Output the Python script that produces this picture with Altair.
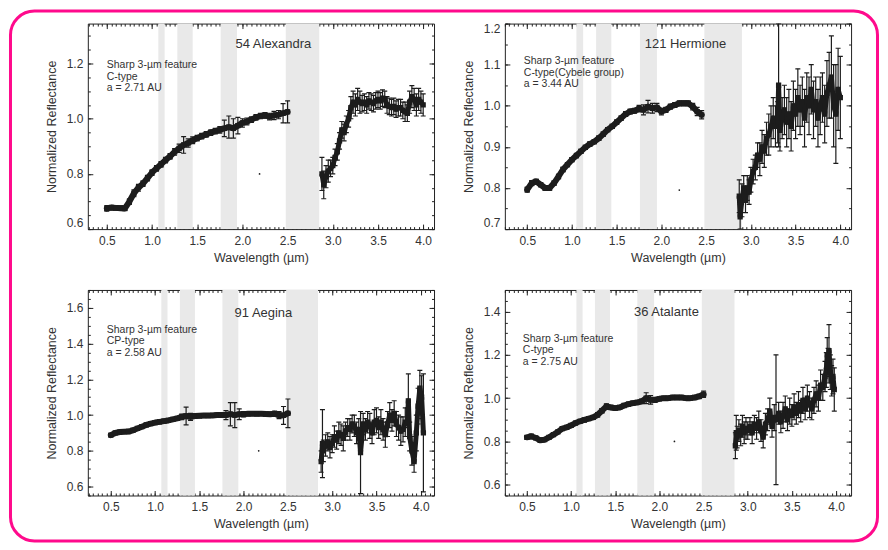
import math
import altair as alt
import pandas as pd

# ---------------- data ----------------
names = ["54 Alexandra", "121 Hermione", "91 Aegina", "36 Atalante"]
notes = [
    ["Sharp 3-\u00b5m feature", "C-type", "a = 2.71 AU"],
    ["Sharp 3-\u00b5m feature", "C-type(Cybele group)", "a = 3.44 AU"],
    ["Sharp 3-\u00b5m feature", "CP-type", "a = 2.58 AU"],
    ["Sharp 3-\u00b5m feature", "C-type", "a = 2.75 AU"],
]
x_major = [0.5, 1.0, 1.5, 2.0, 2.5, 3.0, 3.5, 4.0]
y_major = [
    [0.6, 0.8, 1.0, 1.2],
    [0.7, 0.8, 0.9, 1.0, 1.1, 1.2],
    [0.6, 0.8, 1.0, 1.2, 1.4, 1.6],
    [0.6, 0.8, 1.0, 1.2, 1.4],
]
x_domains = [[0.29, 4.12], [0.25, 4.12], [0.24, 4.15], [0.25, 4.17]]
y_domains = [[0.6, 1.345], [0.7, 1.2], [0.55, 1.70], [0.55, 1.50]]

band_lo = [[1.07, 1.28, 1.76, 2.48], [1.05, 1.27, 1.76, 2.48], [1.07, 1.28, 1.76, 2.48], [1.06, 1.27, 1.75, 2.48]]
band_hi = [[1.14, 1.45, 1.94, 2.85], [1.125, 1.44, 1.95, 2.90], [1.14, 1.45, 1.94, 2.84], [1.13, 1.44, 1.94, 2.85]]

stray_x = [2.19, 2.20, 2.17, 2.17]
stray_y = [0.80, 0.795, 0.80, 0.80]

wl_vis = [0.50, 0.55, 0.60, 0.65, 0.70, 0.75, 0.80, 0.85, 0.90, 0.95, 1.00, 1.05, 1.10, 1.15,
          1.20, 1.25, 1.30, 1.35, 1.40, 1.45, 1.50, 1.55, 1.60, 1.65, 1.70, 1.75, 1.80, 1.85,
          1.90, 1.95, 2.00, 2.05, 2.10, 2.15, 2.20, 2.25, 2.30, 2.35, 2.40, 2.45, 2.50]

# 54 Alexandra
alex_vis_r = [0.675, 0.678, 0.677, 0.676, 0.675, 0.700, 0.730, 0.750, 0.765, 0.785, 0.805, 0.820,
              0.835, 0.850, 0.864, 0.880, 0.893, 0.905, 0.912, 0.922, 0.930, 0.937, 0.943, 0.950,
              0.955, 0.960, 0.965, 0.970, 0.965, 0.975, 0.985, 0.990, 0.997, 1.005, 1.010, 1.012,
              1.008, 1.012, 1.015, 1.020, 1.025]
alex_vis_e = [0.010, 0.008, 0.008, 0.008, 0.008, 0.010, 0.012, 0.012, 0.010, 0.010, 0.010, 0.010,
              0.010, 0.010, 0.010, 0.012, 0.015, 0.030, 0.015, 0.012, 0.010, 0.010, 0.010, 0.010,
              0.010, 0.012, 0.030, 0.040, 0.035, 0.030, 0.015, 0.012, 0.010, 0.010, 0.010, 0.010,
              0.012, 0.015, 0.015, 0.035, 0.040]
alex_ir_w = [2.88, 2.90, 2.925, 2.95, 2.975, 3.00, 3.025, 3.05, 3.075, 3.10, 3.125, 3.15, 3.175,
             3.20, 3.225, 3.25, 3.275, 3.30, 3.325, 3.35, 3.375, 3.40, 3.425, 3.45, 3.475, 3.50,
             3.525, 3.55, 3.575, 3.60, 3.625, 3.65, 3.675, 3.70, 3.725, 3.75, 3.775, 3.80, 3.825,
             3.85, 3.875, 3.90, 3.925, 3.95, 3.975, 4.00]
alex_ir_r = [0.80, 0.76, 0.79, 0.81, 0.82, 0.83, 0.86, 0.88, 0.92, 0.96, 0.95, 0.98, 1.00, 1.04,
             1.06, 1.05, 1.07, 1.06, 1.055, 1.06, 1.05, 1.065, 1.06, 1.055, 1.065, 1.07, 1.065,
             1.075, 1.07, 1.05, 1.045, 1.04, 1.045, 1.035, 1.04, 1.04, 1.03, 1.025, 1.02, 1.06,
             1.08, 1.07, 1.05, 1.07, 1.06, 1.05]
alex_ir_e = [0.06, 0.05, 0.04, 0.04, 0.03, 0.03, 0.03, 0.03, 0.03, 0.03, 0.03, 0.03, 0.03, 0.04,
             0.04, 0.04, 0.04, 0.04, 0.03, 0.03, 0.03, 0.03, 0.03, 0.03, 0.03, 0.03, 0.03, 0.03,
             0.03, 0.03, 0.03, 0.03, 0.03, 0.03, 0.03, 0.03, 0.03, 0.035, 0.03, 0.04, 0.04, 0.04,
             0.04, 0.04, 0.04, 0.04]

# 121 Hermione
herm_vis_r = [0.796, 0.812, 0.816, 0.808, 0.800, 0.800, 0.812, 0.828, 0.845, 0.857, 0.869, 0.879,
              0.889, 0.899, 0.907, 0.913, 0.921, 0.931, 0.942, 0.950, 0.960, 0.970, 0.980, 0.986,
              0.988, 0.993, 0.990, 0.998, 0.994, 0.996, 0.986, 0.990, 0.998, 1.002, 1.006, 1.006,
              1.006, 0.998, 0.986, 0.978]
herm_vis_e = [0.006, 0.006, 0.005, 0.005, 0.005, 0.005, 0.005, 0.005, 0.005, 0.005, 0.005, 0.005,
              0.005, 0.005, 0.005, 0.005, 0.005, 0.005, 0.005, 0.005, 0.005, 0.005, 0.006, 0.006,
              0.006, 0.008, 0.012, 0.015, 0.012, 0.010, 0.008, 0.006, 0.006, 0.006, 0.006, 0.006,
              0.006, 0.008, 0.010, 0.010]
herm_ir_w = [2.87, 2.88, 2.90, 2.92, 2.94, 2.96, 2.98, 3.00, 3.025, 3.05, 3.075, 3.10, 3.125, 3.15,
             3.175, 3.20, 3.225, 3.25, 3.275, 3.30, 3.31, 3.325, 3.35, 3.375, 3.40, 3.425, 3.45,
             3.475, 3.50, 3.525, 3.55, 3.575, 3.60, 3.625, 3.65, 3.675, 3.70, 3.725, 3.75, 3.775,
             3.80, 3.825, 3.85, 3.875, 3.90, 3.925, 3.95, 3.975, 4.00]
herm_ir_r = [0.78, 0.73, 0.77, 0.80, 0.77, 0.80, 0.79, 0.82, 0.84, 0.85, 0.88, 0.87, 0.90, 0.89,
             0.92, 0.93, 0.95, 0.97, 0.95, 0.96, 1.05, 0.94, 0.97, 0.99, 0.96, 0.98, 0.95, 1.00,
             0.98, 1.02, 0.99, 1.01, 0.97, 1.02, 1.00, 1.04, 0.99, 1.01, 0.97, 1.00, 1.02, 0.98,
             1.03, 1.05, 1.07, 1.00, 0.98, 1.04, 1.02]
herm_ir_e = [0.04, 0.03, 0.04, 0.03, 0.03, 0.03, 0.03, 0.03, 0.03, 0.03, 0.03, 0.04, 0.04, 0.04,
             0.04, 0.05, 0.05, 0.05, 0.05, 0.05, 0.15, 0.05, 0.05, 0.06, 0.06, 0.06, 0.06, 0.06,
             0.06, 0.07, 0.06, 0.06, 0.07, 0.06, 0.07, 0.06, 0.07, 0.06, 0.07, 0.07, 0.06, 0.07,
             0.08, 0.08, 0.10, 0.10, 0.12, 0.10, 0.10]

# 91 Aegina
aeg_vis_r = [0.888, 0.900, 0.905, 0.907, 0.908, 0.915, 0.925, 0.935, 0.945, 0.952, 0.958, 0.962,
             0.966, 0.970, 0.976, 0.982, 0.990, 0.995, 0.990, 0.995, 0.996, 0.997, 0.997, 0.998,
             1.000, 1.000, 1.000, 1.005, 1.000, 1.005, 1.005, 1.008, 1.008, 1.007, 1.008, 1.006,
             1.005, 1.007, 1.000, 0.998, 1.010]
aeg_vis_e = [0.008, 0.006, 0.006, 0.006, 0.006, 0.006, 0.006, 0.008, 0.010, 0.010, 0.010, 0.010,
             0.010, 0.010, 0.010, 0.010, 0.015, 0.050, 0.020, 0.012, 0.010, 0.010, 0.010, 0.010,
             0.010, 0.012, 0.025, 0.065, 0.070, 0.030, 0.015, 0.012, 0.010, 0.010, 0.010, 0.010,
             0.012, 0.015, 0.020, 0.050, 0.080]
aeg_ir_w = [2.875, 2.89, 2.90, 2.925, 2.95, 2.975, 3.00, 3.025, 3.05, 3.075, 3.10, 3.125, 3.15,
            3.175, 3.20, 3.225, 3.25, 3.275, 3.30, 3.32, 3.35, 3.375, 3.40, 3.425, 3.45, 3.475,
            3.50, 3.525, 3.55, 3.575, 3.60, 3.625, 3.65, 3.675, 3.70, 3.725, 3.75, 3.775, 3.80,
            3.825, 3.85, 3.86, 3.875, 3.90, 3.925, 3.95, 3.97, 3.99, 4.01, 4.03]
aeg_ir_r = [0.74, 0.84, 0.80, 0.83, 0.85, 0.82, 0.84, 0.88, 0.86, 0.90, 0.89, 0.87, 0.91, 0.93,
            0.92, 0.95, 0.94, 0.90, 0.92, 0.79, 0.95, 0.92, 0.96, 0.94, 0.90, 0.96, 0.97, 0.93,
            0.96, 0.92, 0.89, 0.95, 1.00, 0.97, 1.01, 0.95, 0.93, 0.91, 0.92, 0.96, 0.96, 1.08,
            0.88, 0.80, 0.74, 0.90, 1.05, 1.15, 1.10, 0.90]
aeg_ir_e = [0.06, 0.19, 0.06, 0.06, 0.05, 0.06, 0.05, 0.06, 0.05, 0.06, 0.06, 0.07, 0.05, 0.05,
            0.06, 0.05, 0.06, 0.06, 0.06, 0.23, 0.06, 0.06, 0.06, 0.07, 0.06, 0.07, 0.07, 0.06,
            0.07, 0.06, 0.07, 0.07, 0.07, 0.06, 0.07, 0.07, 0.07, 0.08, 0.07, 0.08, 0.08, 0.15,
            0.08, 0.08, 0.06, 0.10, 0.10, 0.10, 0.12, 0.33]

# 36 Atalante
atal_vis_r = [0.819, 0.824, 0.816, 0.805, 0.808, 0.819, 0.831, 0.844, 0.859, 0.865, 0.874, 0.885,
              0.893, 0.899, 0.905, 0.911, 0.923, 0.942, 0.962, 0.957, 0.954, 0.957, 0.966, 0.972,
              0.977, 0.980, 0.985, 1.000, 0.992, 0.992, 0.997, 1.000, 1.000, 1.003, 1.003, 1.003,
              1.000, 1.000, 1.003, 1.008, 1.018]
atal_vis_e = [0.008, 0.006, 0.006, 0.006, 0.006, 0.006, 0.006, 0.006, 0.008, 0.008, 0.008, 0.008,
              0.008, 0.008, 0.008, 0.008, 0.010, 0.010, 0.012, 0.010, 0.008, 0.008, 0.008, 0.008,
              0.008, 0.008, 0.010, 0.025, 0.020, 0.012, 0.008, 0.006, 0.006, 0.006, 0.006, 0.006,
              0.006, 0.006, 0.006, 0.010, 0.015]
atal_ir_w = [2.86, 2.87, 2.88, 2.90, 2.92, 2.94, 2.96, 2.98, 3.00, 3.025, 3.05, 3.075, 3.10, 3.125,
             3.15, 3.175, 3.20, 3.225, 3.25, 3.275, 3.30, 3.32, 3.35, 3.375, 3.40, 3.425, 3.45,
             3.475, 3.50, 3.525, 3.55, 3.575, 3.60, 3.625, 3.65, 3.675, 3.70, 3.725, 3.75, 3.775,
             3.80, 3.825, 3.85, 3.875, 3.89, 3.90, 3.91, 3.92, 3.935, 3.95, 3.965, 3.98]
atal_ir_r = [0.78, 0.84, 0.82, 0.85, 0.83, 0.87, 0.84, 0.86, 0.85, 0.87, 0.84, 0.88, 0.86, 0.89,
             0.85, 0.82, 0.88, 0.90, 0.94, 0.87, 0.91, 0.90, 0.93, 0.89, 0.92, 0.95, 0.90, 0.94,
             0.92, 0.96, 0.93, 0.97, 0.94, 0.99, 0.95, 1.00, 0.97, 0.95, 0.99, 1.02, 1.00, 1.06,
             1.05, 1.10, 1.13, 1.20, 1.15, 1.22, 1.12, 1.08, 1.10, 1.04]
atal_ir_e = [0.06, 0.08, 0.05, 0.05, 0.05, 0.05, 0.05, 0.05, 0.04, 0.04, 0.05, 0.04, 0.05, 0.05,
             0.05, 0.05, 0.05, 0.05, 0.06, 0.05, 0.06, 0.30, 0.05, 0.05, 0.06, 0.06, 0.05, 0.06,
             0.05, 0.06, 0.05, 0.06, 0.05, 0.06, 0.05, 0.06, 0.06, 0.05, 0.06, 0.06, 0.06, 0.07,
             0.06, 0.07, 0.08, 0.08, 0.08, 0.12, 0.08, 0.07, 0.08, 0.10]

spectra = [
    (wl_vis, alex_vis_r, alex_vis_e, alex_ir_w, alex_ir_r, alex_ir_e),
    (wl_vis[:40], herm_vis_r, herm_vis_e, herm_ir_w, herm_ir_r, herm_ir_e),
    (wl_vis, aeg_vis_r, aeg_vis_e, aeg_ir_w, aeg_ir_r, aeg_ir_e),
    (wl_vis, atal_vis_r, atal_vis_e, atal_ir_w, atal_ir_r, atal_ir_e),
]

# ---------------- layout / style ----------------
W, H = 347, 206
INK = "#1c1c1c"
TXT = "#333333"
FONT = "Liberation Sans"
PINK = "#ff0a8c"

name_pos = [(186, 20), (181, 20), (176, 23), (162, 22)]
note_pos = [(19, 37), (19, 33), (19, 35), (18, 44)]


def grid_vals(lo, hi, step=0.05):
    a = math.ceil(lo / step - 1e-9)
    b = math.floor(hi / step + 1e-9)
    return [round(i * step, 3) for i in range(a, b + 1)]


def make_axis(orient, vals, major, labels=False, title=None, flush=False):
    size = 5 if major else 2.5
    kw = dict(orient=orient, values=vals, tickSize=size, offset=-size, ticks=True,
              labels=labels, domain=False, grid=False, tickColor="#222222", tickWidth=1,
              title=title)
    if labels:
        kw.update(format=".1f", labelFont=FONT, labelFontSize=12, labelColor=TXT,
                  labelPadding=5 if orient in ("left", "right") else 6)
        if flush:
            kw.update(labelFlush=True)
        kw.update(titleFont=FONT, titleFontSize=12.5, titleFontWeight="normal",
                  titleColor=TXT, titlePadding=8 if orient == "left" else 5)
    return alt.Axis(**kw)


def panel(i):
    xd, yd = x_domains[i], y_domains[i]
    xs = alt.Scale(domain=xd, nice=False, zero=False)
    ys = alt.Scale(domain=yd, nice=False, zero=False)
    xmin_v = grid_vals(xd[0], xd[1])
    ymin_v = grid_vals(yd[0], yd[1])
    vw, vr, ve, iw, ir, ie = spectra[i]
    vis = pd.DataFrame({"wl": vw, "r": vr, "e": ve})
    irr = pd.DataFrame({"wl": iw, "r": ir, "e": ie})
    df = pd.concat([vis, irr], ignore_index=True)
    df["lo"] = df["r"] - df["e"]
    df["hi"] = df["r"] + df["e"]
    bands = pd.DataFrame({"b0": band_lo[i], "b1": band_hi[i]})
    one = pd.DataFrame({"k": [0]})

    band_layer = alt.Chart(bands).mark_rect(color="#e9e9e9").encode(
        x=alt.X("b0:Q", scale=xs, axis=make_axis("bottom", x_major, True, True, "Wavelength (\u00b5m)")),
        x2="b1:Q",
    )
    rules = alt.Chart(df).mark_rule(color=INK, strokeWidth=1.2, clip=True).encode(
        x=alt.X("wl:Q", scale=xs, axis=make_axis("bottom", xmin_v, False)),
        y=alt.Y("lo:Q", scale=ys, axis=make_axis("left", y_major[i], True, True, "Normalized Reflectance", True)),
        y2="hi:Q",
    )
    caps_lo = alt.Chart(df).mark_tick(orient="horizontal", size=5, thickness=1.2, color=INK,
                                      opacity=1, clip=True).encode(
        x=alt.X("wl:Q", scale=xs, axis=make_axis("top", x_major, True)),
        y=alt.Y("lo:Q", scale=ys, axis=make_axis("left", ymin_v, False)),
    )
    caps_hi = alt.Chart(df).mark_tick(orient="horizontal", size=5, thickness=1.2, color=INK,
                                      opacity=1, clip=True).encode(
        x=alt.X("wl:Q", scale=xs, axis=make_axis("top", xmin_v, False)),
        y=alt.Y("hi:Q", scale=ys, axis=make_axis("right", y_major[i], True)),
    )
    line_vis = alt.Chart(vis).mark_line(color=INK, strokeWidth=6, clip=True,
                                        strokeJoin="round", strokeCap="round").encode(
        x=alt.X("wl:Q", scale=xs, axis=None),
        y=alt.Y("r:Q", scale=ys, axis=None),
    )
    line_ir = alt.Chart(irr).mark_line(color=INK, strokeWidth=5, clip=True,
                                       strokeJoin="round").encode(
        x=alt.X("wl:Q", scale=xs, axis=None),
        y=alt.Y("r:Q", scale=ys, axis=None),
    )
    pts = alt.Chart(df).mark_square(size=28, color=INK, opacity=1, clip=True).encode(
        x=alt.X("wl:Q", scale=xs, axis=None),
        y=alt.Y("r:Q", scale=ys, axis=make_axis("right", ymin_v, False)),
    )
    stray = alt.Chart(pd.DataFrame({"sx": [stray_x[i]], "sy": [stray_y[i]]})).mark_circle(
        size=3, color=INK, opacity=1).encode(
        x=alt.X("sx:Q", scale=xs, axis=None),
        y=alt.Y("sy:Q", scale=ys, axis=None),
    )
    name = alt.Chart(one).mark_text(text=names[i], font=FONT, fontSize=13, color=TXT,
                                    align="center", baseline="middle").encode(
        x=alt.value(name_pos[i][0]), y=alt.value(name_pos[i][1]))
    note = alt.Chart(one).mark_text(text=notes[i], font=FONT, fontSize=10.5, color=TXT,
                                    align="left", baseline="top", lineHeight=11.5).encode(
        x=alt.value(note_pos[i][0]), y=alt.value(note_pos[i][1]))
    layers = [band_layer, rules, caps_lo, caps_hi, line_vis, line_ir, pts, stray, name, note]
    if i == 0:
        border = alt.Chart(one).mark_rect(fill="transparent", stroke=PINK, strokeWidth=3,
                                          cornerRadius=24).encode(
            x=alt.value(-77.5), x2=alt.value(791.5), y=alt.value(-12.5), y2=alt.value(518.5))
        layers.append(border)
    return alt.layer(*layers).resolve_axis(x="independent", y="independent").properties(
        width=W, height=H)


chart = alt.concat(
    panel(0), panel(1), panel(2), panel(3),
    columns=2, spacing={"row": 61, "column": 71}, bounds="flush",
).properties(padding=0, background="white").configure_view(
    stroke="#222222", strokeWidth=1
)

chart.save("out.html", embed_options={"renderer": "svg", "actions": False})
